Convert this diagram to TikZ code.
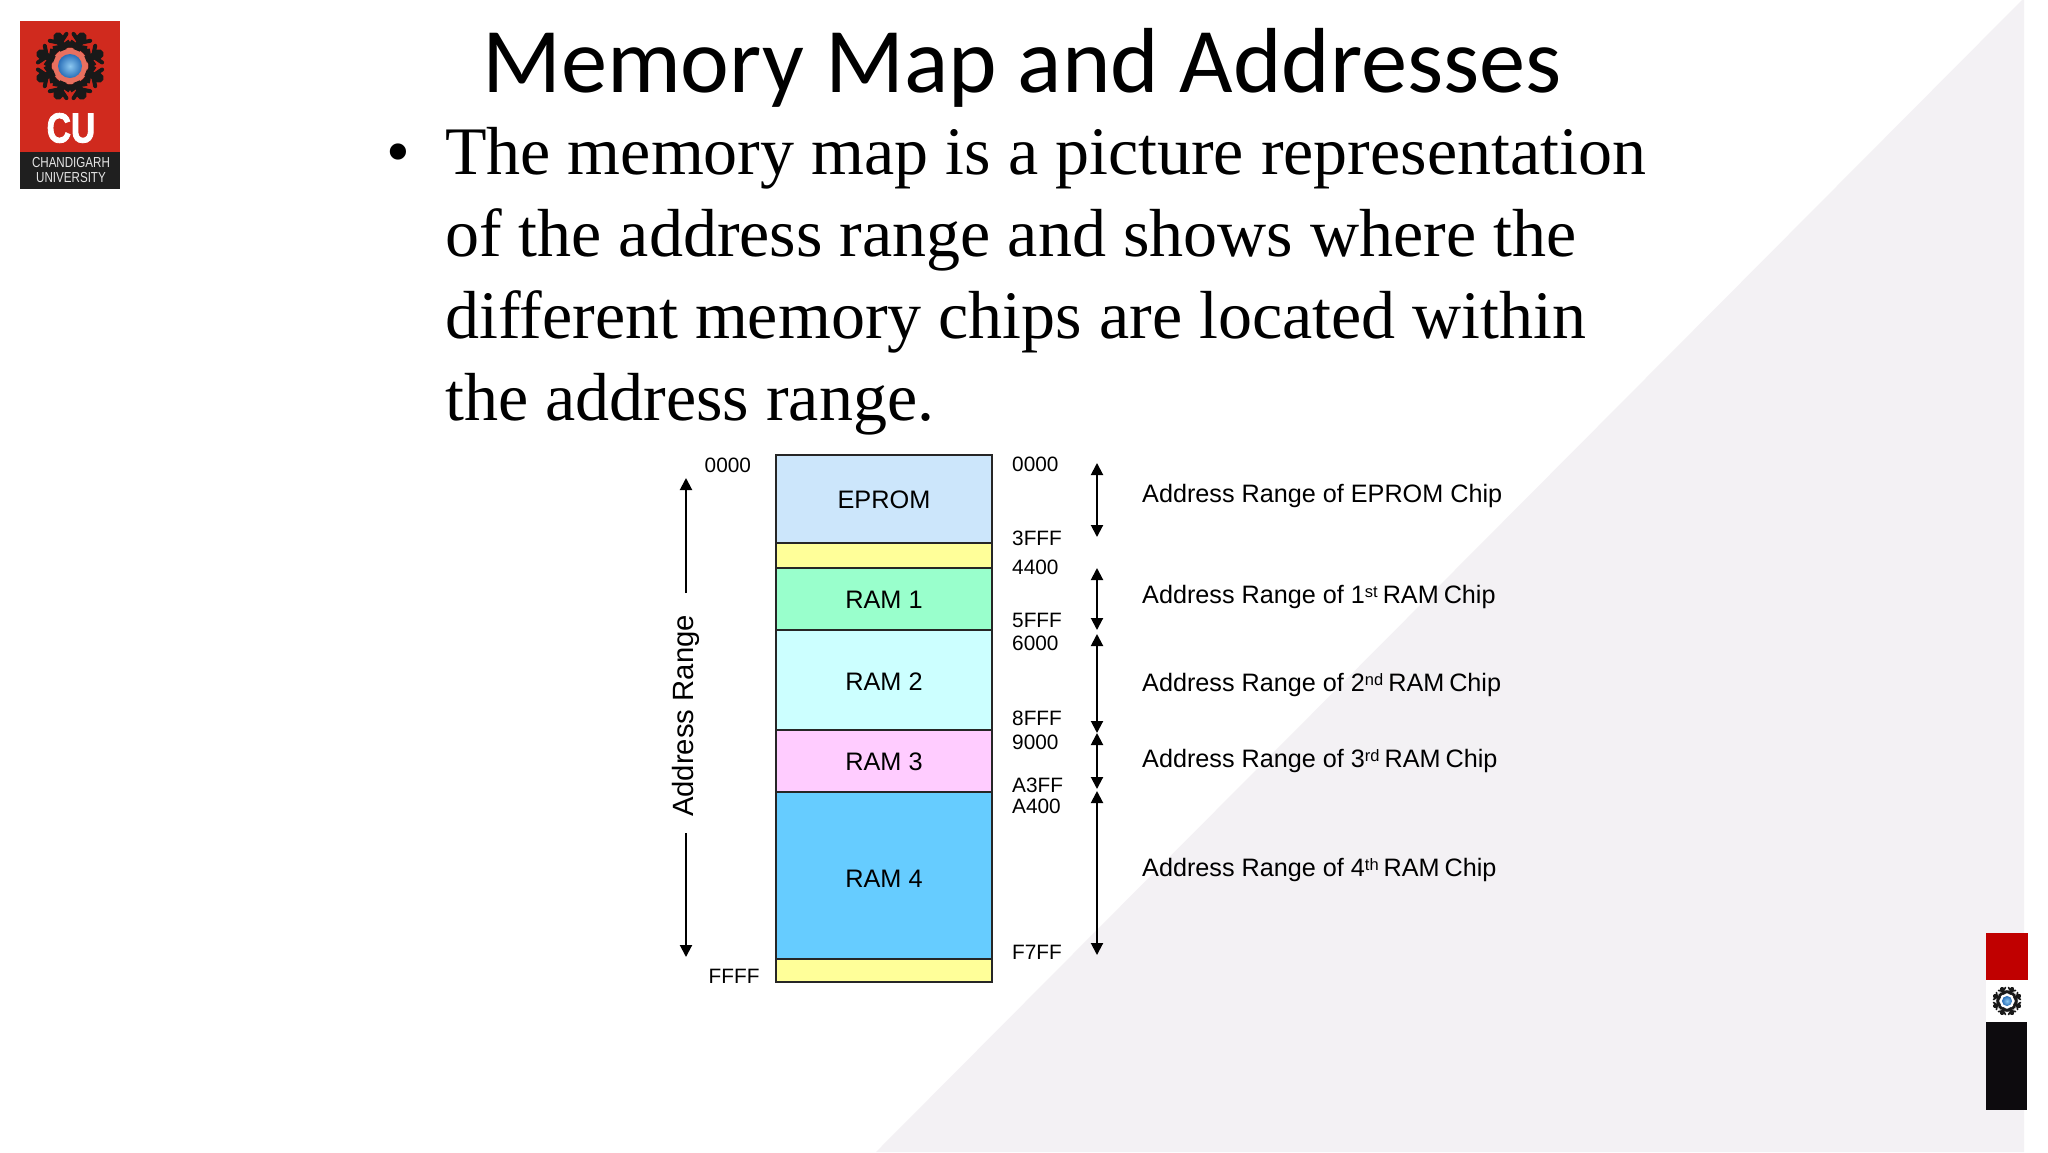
\documentclass[tikz,border=0pt]{standalone}
\usepackage{fontspec}
\usepackage{xcolor}
\usepackage{tikz}
\usetikzlibrary{arrows.meta,positioning,shadings}
\setmainfont{Liberation Sans}
\newfontfamily\titlefont{Carlito}
\newfontfamily\bodyfont{Liberation Serif}
\newfontfamily\narrowfont[FakeStretch=0.8]{Liberation Sans}
\newfontfamily\cufont[FakeStretch=0.8,FakeBold=2,UprightFont={* Bold}]{Liberation Sans}
\definecolor{slidegray}{HTML}{F3F1F4}
\definecolor{curedlogo}{HTML}{D02A1E}
\definecolor{cubar}{HTML}{C00000}
\definecolor{cublack}{HTML}{0D0B0E}
\definecolor{romblue}{HTML}{CCE6FB}
\definecolor{gapyellow}{HTML}{FFFF99}
\definecolor{ramgreen}{HTML}{99FFCC}
\definecolor{ramcyan}{HTML}{CCFFFF}
\definecolor{rampink}{HTML}{FFCCFF}
\definecolor{ramblue}{HTML}{66CCFF}
\definecolor{globelight}{HTML}{8CC8F0}
\definecolor{globedark}{HTML}{2A6FB8}
\definecolor{emblemglow}{HTML}{E8705F}
\tikzset{
  mapbox/.style={draw=black!85,line width=2pt,minimum width=216pt,inner sep=0pt,outer sep=0pt,
    text height=18pt,text depth=0pt,font=\fontsize{25.3}{30}\selectfont},
  addrlabel/.style={anchor=base west,inner sep=0pt,font=\fontsize{20.8}{25}\selectfont},
  chiplabel/.style={anchor=base west,inner sep=0pt,font=\fontsize{25.2}{30}\selectfont},
  rangearrow/.style={{Triangle[length=12pt,width=12pt]}-{Triangle[length=12pt,width=12pt]},line width=2pt},
  sidearrow/.style={-{Triangle[length=12pt,width=12pt]},line width=2pt},
  emblem/.pic={
    \begin{scope}[scale=#1]
    \fill[emblemglow] (0,0) circle (18);
    \draw[black!90,line width=#1*5pt] (0,0) circle (21);
    \foreach \a in {22.5,67.5,...,337.5}{
      \begin{scope}[rotate=\a]
        \fill[black!90] (31,0) circle (5);
        \draw[black!90,line width=#1*7pt] (17,0) -- (27,0);
        \draw[black!90,line width=#1*4pt,line cap=round] (31,-9) -- (25,0) -- (31,9);
        \draw[black!90,line width=#1*4pt] (23,-9) -- (21,0) -- (23,9);
      \end{scope}
    }
    \shade[inner color=globelight,outer color=globedark] (0,0) circle (12);
    \end{scope}
  }
}
\newcommand{\chipline}[2]{Address Range of #1\raisebox{6pt}{\fontsize{16.5}{17}\selectfont #2}\kern5pt RAM\kern5pt Chip}

\begin{document}
\begin{tikzpicture}[x=1pt,y=-1pt]
  \useasboundingbox (0,0) rectangle (2048,1152);
  \fill[white] (0,0) rectangle (2048,1152);
  \fill[slidegray] (2022,0) -- (2024,0) -- (2024,1152) -- (876,1152) -- cycle;

  \fill[curedlogo] (20,21) rectangle (120,152);
  \fill[black!88] (20,152) rectangle (120,189);
  \pic at (70,66) {emblem=1};
  \node[inner sep=0pt,text=white,font=\cufont\fontsize{42}{42}\selectfont] (culogo) at (71,128) {CU};
  \node[inner sep=0pt,align=center,text=white!90!black,font=\narrowfont\fontsize{14.5}{15}\selectfont] (cuname) at (71,170.5) {CHANDIGARH\\UNIVERSITY};

  \fill[cubar] (1986,933) rectangle (2028,980);
  \fill[white] (1986,980) rectangle (2028,1022);
  \fill[cublack] (1986,1022) rectangle (2027,1110);
  \colorlet{emblemglow}{white}
  \pic at (2007,1001) {emblem=0.42};

  \node[anchor=base,inner sep=0pt,font=\titlefont\fontsize{92.4}{100}\selectfont] (title) at (1022,92) {Memory Map and Addresses};
  \node[anchor=north west,inner sep=0pt,align=left,font=\bodyfont\fontsize{68}{82}\selectfont] (bodytext) at (445,127.5)
    {The memory map is a picture representation\\of the address range and shows where the\\different memory chips are located within\\the address range.};
  \node[anchor=base,inner sep=0pt,font=\bodyfont\fontsize{68}{82}\selectfont] (bulletmark) at (398.5,174) {•};

  \node[mapbox,anchor=north,minimum height=88pt,fill=romblue] (eprom) at (884,455) {EPROM};
  \node[mapbox,below=0pt of eprom,minimum height=25pt,fill=gapyellow] (gapa) {};
  \node[mapbox,below=0pt of gapa,minimum height=62pt,fill=ramgreen] (rama) {RAM 1};
  \node[mapbox,below=0pt of rama,minimum height=100pt,fill=ramcyan,text height=21pt] (ramb) {RAM 2};
  \node[mapbox,below=0pt of ramb,minimum height=62pt,fill=rampink] (ramc) {RAM 3};
  \node[mapbox,below=0pt of ramc,minimum height=167pt,fill=ramblue,text height=23pt] (ramd) {RAM 4};
  \node[mapbox,below=0pt of ramd,minimum height=23pt,fill=gapyellow] (gapb) {};

  \node[addrlabel] (lefttop) at (704.5,472.5) {0000};
  \node[addrlabel] (leftend) at (708.5,983.5) {FFFF};
  \foreach \y/\txt in {471/0000,545/3FFF,574/4400,627/5FFF,650/6000,725/8FFF,749/9000,792/A3FF,813/A400,959/F7FF}
    \node[addrlabel] (addr\txt) at (1012,\y) {\txt};

  \foreach \n/\a/\b in {eprom/463/537,rama/568/630,ramb/634/733,ramc/733/789,ramd/791/955}{
    \coordinate (\n top) at (1097,\a);
    \coordinate (\n end) at (1097,\b);
    \draw[rangearrow] (\n top) -- (\n end);
  }

  \node[chiplabel] (chipe) at (1142,502) {Address Range of EPROM Chip};
  \node[chiplabel] (chipa) at (1142,603) {\chipline{1}{st}};
  \node[chiplabel] (chipb) at (1142,691) {\chipline{2}{nd}};
  \node[chiplabel] (chipc) at (1142,767) {\chipline{3}{rd}};
  \node[chiplabel] (chipd) at (1142,876) {\chipline{4}{th}};

  \node[anchor=base,rotate=90,inner sep=0pt,font=\fontsize{29.3}{32}\selectfont] (addrrange) at (693,716) {Address Range};
  \coordinate (upstart) at (686,593);
  \coordinate (uptip) at (686,478);
  \coordinate (downstart) at (686,833);
  \coordinate (downtip) at (686,957);
  \draw[sidearrow] (upstart) -- (uptip);
  \draw[sidearrow] (downstart) -- (downtip);
\end{tikzpicture}
\end{document}
